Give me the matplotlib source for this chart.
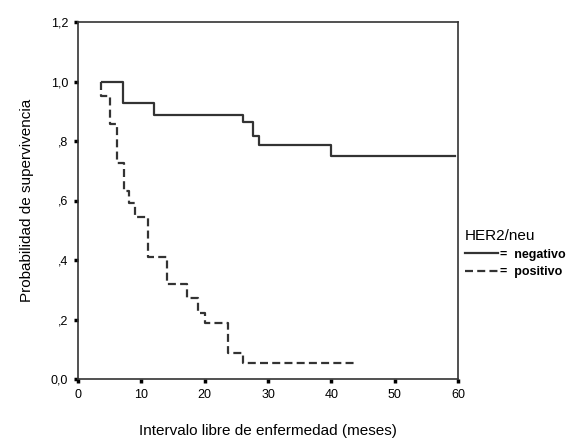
import matplotlib
matplotlib.use('Agg')
import matplotlib.pyplot as plt
from matplotlib.lines import Line2D

plt.rcParams['font.family'] = ['Liberation Sans', 'DejaVu Sans']

# Kaplan-Meier steps (months, survival)
neg_time = [3.8, 7.1, 12.0, 26.0, 27.6, 28.6, 40.0, 59.5]
neg_surv = [1.0, 0.928, 0.889, 0.864, 0.818, 0.788, 0.748, 0.748]

pos_time = [3.6, 3.6, 5.1, 6.1, 7.3, 8.0, 9.0, 11.0, 14.1, 17.2, 19.0, 20.1, 23.7, 26.1, 43.7]
pos_surv = [1.0, 0.952, 0.857, 0.727, 0.633, 0.59, 0.546, 0.411, 0.319, 0.271, 0.223,
            0.187, 0.088, 0.055, 0.055]

x_ticks = [0, 10, 20, 30, 40, 50, 60]
y_ticks = [0.0, 0.2, 0.4, 0.6, 0.8, 1.0, 1.2]
y_tick_labels = ['0,0', ',2', ',4', ',6', ',8', '1,0', '1,2']

col = '#333333'

fig = plt.figure(figsize=(5.85, 4.41), dpi=100)
ax = fig.add_axes([78 / 585, 1 - 379 / 441, 380 / 585, 357 / 441])

ax.step(neg_time, neg_surv, where='post', color=col, lw=1.6)
ax.step(pos_time, pos_surv, where='post', color=col, lw=1.6, dashes=(3.6, 1.9))

ax.set_xlim(0, 60)
ax.set_ylim(0, 1.2)
ax.set_xticks(x_ticks)
ax.set_xticklabels([str(v) for v in x_ticks], fontsize=9)
ax.set_yticks(y_ticks)
ax.set_yticklabels(y_tick_labels, fontsize=9)
ax.tick_params(direction='out', length=3, width=2.5, color='black', pad=4)

for s in ax.spines.values():
    s.set_color(col)
    s.set_linewidth(1.2)

ax.set_xlabel('Intervalo libre de enfermedad (meses)', fontsize=11, labelpad=17)
ax.set_ylabel('Probabilidad de supervivencia', fontsize=11, labelpad=12)

handles = [Line2D([], [], color=col, lw=1.6),
           Line2D([], [], color=col, lw=1.6, dashes=(3.6, 1.9))]
leg = fig.legend(handles, ['=  negativo', '=  positivo'], title='HER2/neu',
                 loc='upper left', bbox_to_anchor=(460 / 585, 1 - 224 / 441),
                 frameon=False, fontsize=9, title_fontsize=11, handlelength=2.6,
                 handletextpad=0.2, labelspacing=0.45, borderaxespad=0,
                 alignment='left')
for t in leg.get_texts():
    t.set_fontweight('bold')

fig.savefig('out.png', dpi=100)
